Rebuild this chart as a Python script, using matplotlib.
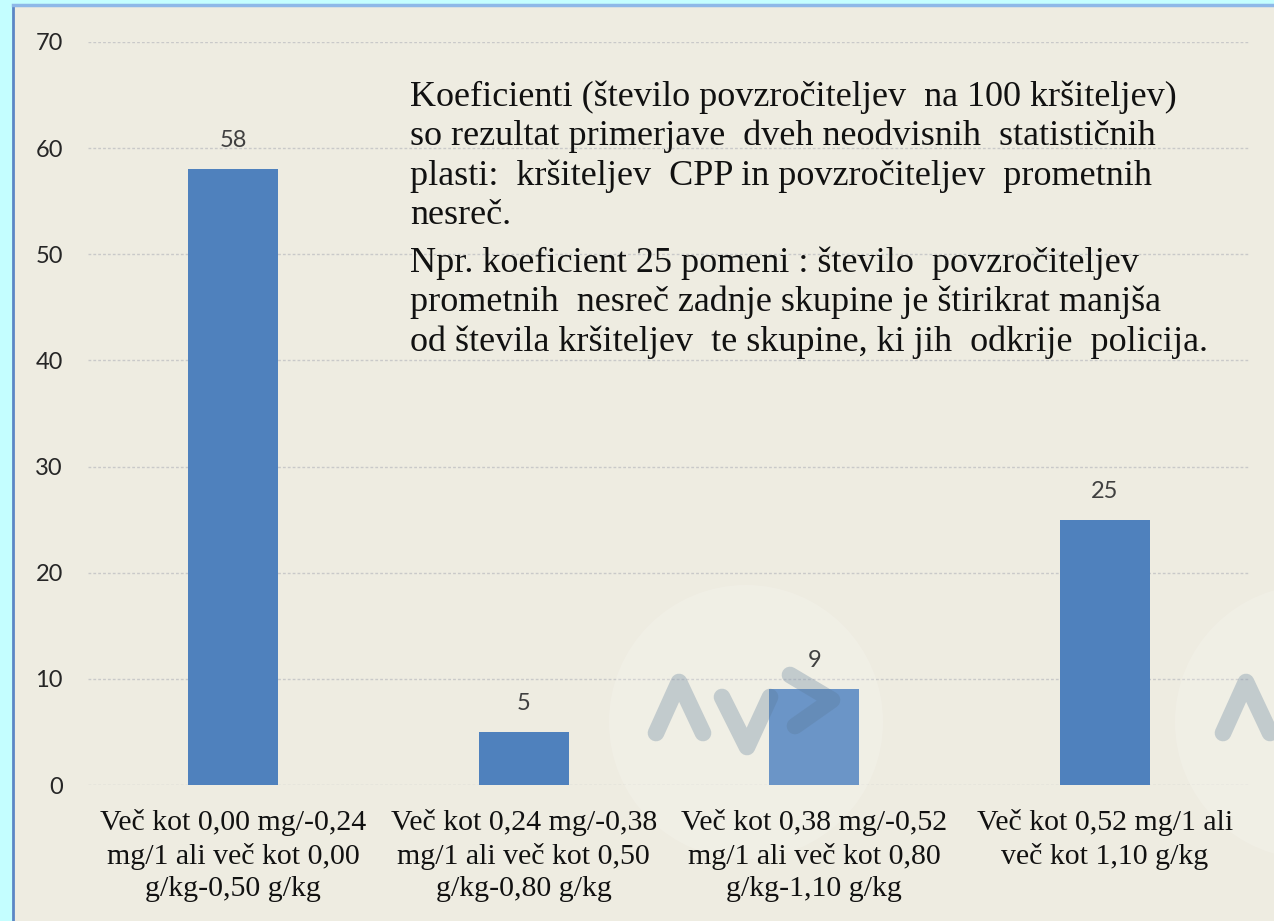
import numpy as np
import matplotlib.pyplot as plt
from matplotlib.patches import Rectangle, Circle
from matplotlib.lines import Line2D
from matplotlib.transforms import IdentityTransform

categories = ['Več kot 0,00 mg/-0,24\nmg/1 ali več kot 0,00\ng/kg-0,50 g/kg',
              'Več kot 0,24 mg/-0,38\nmg/1 ali več kot 0,50\ng/kg-0,80 g/kg',
              'Več kot 0,38 mg/-0,52\nmg/1 ali več kot 0,80\ng/kg-1,10 g/kg',
              'Več kot 0,52 mg/1 ali\nveč kot 1,10 g/kg']
values = [58, 5, 9, 25]
yticks = [0, 10, 20, 30, 40, 50, 60, 70]

note1 = ('Koeficienti (število povzročiteljev  na 100 kršiteljev)\n'
         'so rezultat primerjave  dveh neodvisnih  statističnih\n'
         'plasti:  kršiteljev  CPP in povzročiteljev  prometnih\n'
         'nesreč.')
note2 = ('Npr. koeficient 25 pomeni : število  povzročiteljev\n'
         'prometnih  nesreč zadnje skupine je štirikrat manjša\n'
         'od števila kršiteljev  te skupine, ki jih  odkrije  policija.')

W, H = 1274, 921
fig = plt.figure(figsize=(W / 100, H / 100), dpi=100, facecolor='#C4FEFF')
px = IdentityTransform()

# chart background with blue frame (left + top)
fig.add_artist(Rectangle((13, 0), W - 13, H - 5, transform=px, facecolor='#EEECE1',
                         edgecolor='none', zorder=-10))
fig.add_artist(Line2D([13, 13], [0, H - 5], transform=px, color='#5B86C5', lw=2, zorder=-9))
fig.add_artist(Line2D([13, W], [H - 5, H - 5], transform=px, color='#8EB8E8', lw=2.5, zorder=-9))

ax = fig.add_axes([88 / W, 1 - 785 / H, (1250 - 88) / W, (785 - 42) / H])
ax.set_facecolor('none')
x = np.arange(len(values))
bars = ax.bar(x, values, width=0.31, color='#4F81BD', zorder=3)
for xi, v in zip(x, values):
    ax.annotate(str(v), (xi, v), xytext=(0, 13), textcoords='offset points',
                ha='center', va='bottom', fontsize=17, color='#404040', family='Lato',
                zorder=7)

ax.set_xlim(-0.5, 3.5)
ax.set_ylim(0, 70)
ax.set_yticks(yticks)
ax.grid(axis='y', color='#C9C9C9', linestyle=(0, (2, 1.5)), lw=1, zorder=0)
for s in ax.spines.values():
    s.set_visible(False)
ax.tick_params(axis='y', length=0, pad=18, labelsize=17, labelcolor='#262626')
ax.tick_params(axis='x', length=0, pad=17)
for lab in ax.get_yticklabels():
    lab.set_family('Lato')
ax.set_xticks(x)
ax.set_xticklabels(categories, family='Liberation Serif', fontsize=21.5, color='#111111',
                   linespacing=1.33)
ax.xaxis.set_zorder(8)

txt = dict(ha='left', va='top', family='Liberation Serif', fontsize=26,
           color='#111111', linespacing=1.24, zorder=8)
fig.text(410 / W, 1 - 80 / H, note1, **txt)
fig.text(410 / W, 1 - 246 / H, note2, **txt)

# faint watermark circles and logo
for cx in (746, 1312):
    ax.add_artist(Circle((cx, H - 722), 137, transform=px, facecolor='white',
                         alpha=0.16, edgecolor='none', zorder=5, clip_on=False))
wm = dict(transform=px, color='#5A7896', alpha=0.3, lw=12, solid_capstyle='round',
          solid_joinstyle='round', zorder=6, clip_on=False)
ax.add_artist(Line2D([656, 679, 703], [H - 733, H - 682, H - 733], **wm))
ax.add_artist(Line2D([722, 747, 770], [H - 697, H - 747, H - 697], **wm))
ax.add_artist(Line2D([790, 832, 795], [H - 675, H - 700, H - 726], **wm))
ax.add_artist(Line2D([1223, 1246, 1270], [H - 733, H - 682, H - 733], **wm))

fig.savefig('out.png', dpi=100, facecolor=fig.get_facecolor())
